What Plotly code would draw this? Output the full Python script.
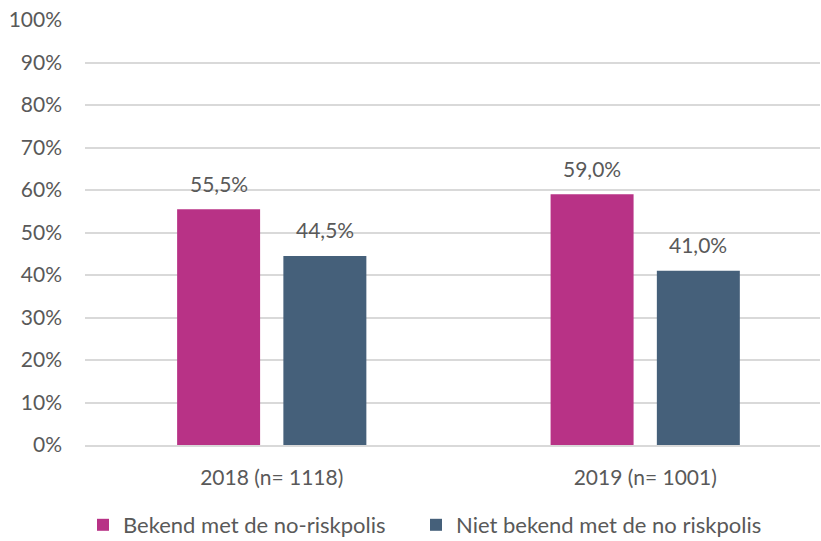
import plotly.graph_objects as go

categories = ["2018 (n= 1118)", "2019 (n= 1001)"]
bekend = [55.5, 59.0]
niet_bekend = [44.5, 41.0]
series_names = ["Bekend met de no-riskpolis", "Niet bekend met de no riskpolis"]
colors = ["#B83286", "#45607A"]
y_ticks = list(range(0, 101, 10))
y_tick_labels = [f"{v}%" for v in y_ticks]

font_family = "Lato, 'Open Sans', sans-serif"
text_color = "#595959"

bargap = 0.431
bargroupgap = 0.219

fig = go.Figure()
for k, (name, vals, col) in enumerate(zip(series_names, [bekend, niet_bekend], colors)):
    fig.add_trace(go.Bar(
        x=categories, y=vals, name=name,
        marker=dict(color=col, line=dict(width=0)),
        legend="legend" if k == 0 else "legend2",
    ))

# data labels above bars (centre offsets derived from group layout)
n_series = 2
slot = (1 - bargap) / n_series
for s, vals in enumerate([bekend, niet_bekend]):
    for i, v in enumerate(vals):
        xc = i - (1 - bargap) / 2 + slot * (s + 0.5)
        fig.add_annotation(
            x=xc, y=v, xref="x", yref="y",
            text=f"{v:.1f}%".replace(".", ","),
            showarrow=False, yanchor="middle", yshift=26,
            font=dict(size=21, color=text_color, family=font_family),
        )

legend_common = dict(orientation="h", xref="container", yref="container",
                     xanchor="left", y=16 / 541, yanchor="middle",
                     font=dict(size=22, color=text_color), bgcolor="rgba(0,0,0,0)")

fig.update_layout(
    width=821, height=541,
    margin=dict(l=85, r=1, t=20, b=96),
    paper_bgcolor="white", plot_bgcolor="white",
    separators=",.",
    barmode="group", bargap=bargap, bargroupgap=bargroupgap,
    font=dict(family=font_family, size=21, color=text_color),
    showlegend=True,
    legend=dict(x=83 / 821, **legend_common),
    legend2=dict(x=416 / 821, **legend_common),
    xaxis=dict(type="category", range=[-0.5, 1.468], showgrid=False,
               showline=True, linecolor="#D9D9D9", linewidth=1.5,
               ticks="", ticklabelstandoff=13, automargin=False,
               tickfont=dict(size=21, color=text_color)),
    yaxis=dict(range=[0, 100], tickvals=y_ticks, ticktext=y_tick_labels,
               showgrid=True, gridcolor="#D9D9D9", gridwidth=1.5,
               zeroline=False, showline=False, ticks="",
               ticklabelstandoff=22, automargin=False,
               tickfont=dict(size=21, color=text_color)),
)

fig.write_html(
    "out.html",
    config={"responsive": False, "displayModeBar": False},
    post_script="document.body.style.margin='0';document.body.style.overflow='hidden';",
)
